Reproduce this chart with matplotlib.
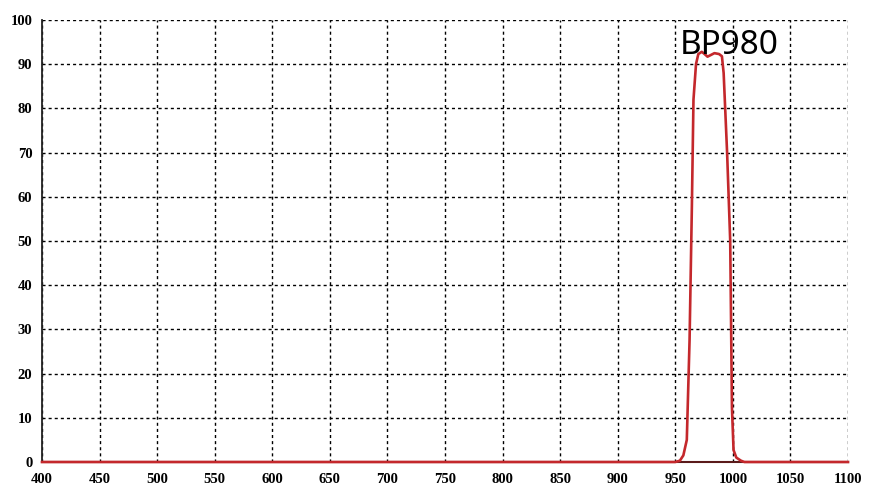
import matplotlib
matplotlib.use("Agg")
import matplotlib.pyplot as plt

wavelength = [400, 950, 954, 957, 960, 962.4, 964.4, 965.8, 968, 970, 973, 975, 978, 981, 984, 988, 990.5,
              992, 995, 997.7, 998.5, 999.2, 1000.6, 1003, 1007, 1010, 1100]
transmission = [0, 0, 0.3, 1.5, 5, 27.6, 57.7, 82, 90, 92.3, 92.8, 92.4, 91.7, 92.1, 92.5, 92.3, 91.8,
                88, 70, 50, 30, 12.4, 2.7, 1, 0.3, 0, 0]
x_ticks = list(range(400, 1101, 50))
y_ticks = list(range(0, 101, 10))
label = "BP980"

fig = plt.figure(figsize=(8.71, 4.93), dpi=100)
ax = fig.add_axes([42/871, 31/493, 806/871, 442/493])
ax.set_xlim(400, 1100)
ax.set_ylim(0, 100)
ax.set_xticks(x_ticks)
ax.set_yticks(y_ticks)
ax.grid(True, color="black", linestyle=(0, (2.2, 2.2)), linewidth=1.0)
for s in ["top", "right"]:
    ax.spines[s].set_visible(False)
ax.spines["left"].set_color("#222222")
ax.spines["bottom"].set_color("#5a1a1a")
ax.spines["left"].set_linewidth(1.3)
ax.spines["bottom"].set_linewidth(1.5)
ax.tick_params(length=0, pad=7)
ax.tick_params(axis="x", pad=8)
for t in ax.get_xticklabels() + ax.get_yticklabels():
    t.set_fontfamily("Liberation Serif")
    t.set_fontweight("bold")
    t.set_fontsize(10.5)
ax.plot(wavelength, transmission, color="#c4282c", linewidth=1.9, zorder=5, clip_on=False)
ax.text(954, 92.2, label, fontsize=24, fontfamily="Noto Sans", ha="left", va="baseline", zorder=6)
fig.savefig("out.png", dpi=100, facecolor="white")
